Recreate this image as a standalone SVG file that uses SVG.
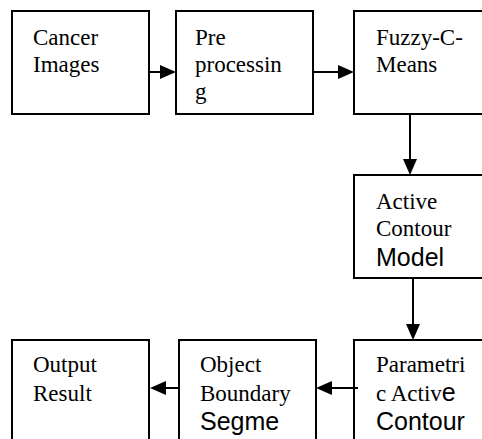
<svg xmlns="http://www.w3.org/2000/svg" width="482" height="439" viewBox="0 0 482 439">
<style>
.box{fill:#fff;stroke:#000;stroke-width:2}
.t{font-family:"Liberation Serif","Times New Roman",serif;font-size:23px;fill:#000}
.a{font-family:"Liberation Sans",Arial,sans-serif;font-size:25px}
.c{stroke:#000;stroke-width:2;fill:none;marker-end:url(#ah)}
</style>
<defs>
<marker id="ah" viewBox="0 0 16 14" refX="0" refY="7" markerWidth="16" markerHeight="14" markerUnits="userSpaceOnUse" orient="auto">
<path d="M0,0 L16,7 L0,14 z" fill="#000"/>
</marker>
</defs>
<rect width="482" height="439" fill="#fff"/>
<g id="n1"><rect class="box" x="12" y="11" width="137" height="103"/>
<text class="t" x="33" y="45">Cancer</text><text class="t" x="33" y="72">Images</text></g>
<g id="n2"><rect class="box" x="176" y="11" width="137" height="103"/>
<text class="t" x="195" y="45">Pre</text><text class="t" x="195" y="72">processin</text><text class="t" x="195" y="99">g</text></g>
<g id="n3"><rect class="box" x="354" y="11" width="140" height="103"/>
<text class="t" x="376" y="45">Fuzzy-C-</text><text class="t" x="376" y="72">Means</text></g>
<g id="n4"><rect class="box" x="354" y="175" width="140" height="103"/>
<text class="t" x="376" y="209">Active</text><text class="t" x="376" y="236">Contour</text><text class="t a" x="376" y="266">Model</text></g>
<g id="n5"><rect class="box" x="354" y="340" width="140" height="110"/>
<text class="t" x="376" y="372">Parametri</text><text class="t" x="376" y="401">c Activ<tspan class="a">e</tspan></text><text class="t a" x="376" y="430">Contour</text></g>
<g id="n6"><rect class="box" x="179" y="340" width="137" height="110"/>
<text class="t" x="200" y="372">Object</text><text class="t" x="200" y="401">Boundary</text><text class="t a" x="200" y="430">Segme</text></g>
<g id="n7"><rect class="box" x="12" y="340" width="137" height="110"/>
<text class="t" x="33" y="372">Output</text><text class="t" x="33" y="401">Result</text></g>
<g id="connectors">
<line class="c" x1="149" y1="72" x2="160" y2="72"/>
<line class="c" x1="313" y1="72" x2="338" y2="72"/>
<line class="c" x1="410" y1="114" x2="410" y2="159"/>
<line class="c" x1="413" y1="278" x2="413" y2="324"/>
<line class="c" x1="358" y1="388" x2="332" y2="388"/>
<line class="c" x1="179" y1="388" x2="166" y2="388"/>
</g>
</svg>
